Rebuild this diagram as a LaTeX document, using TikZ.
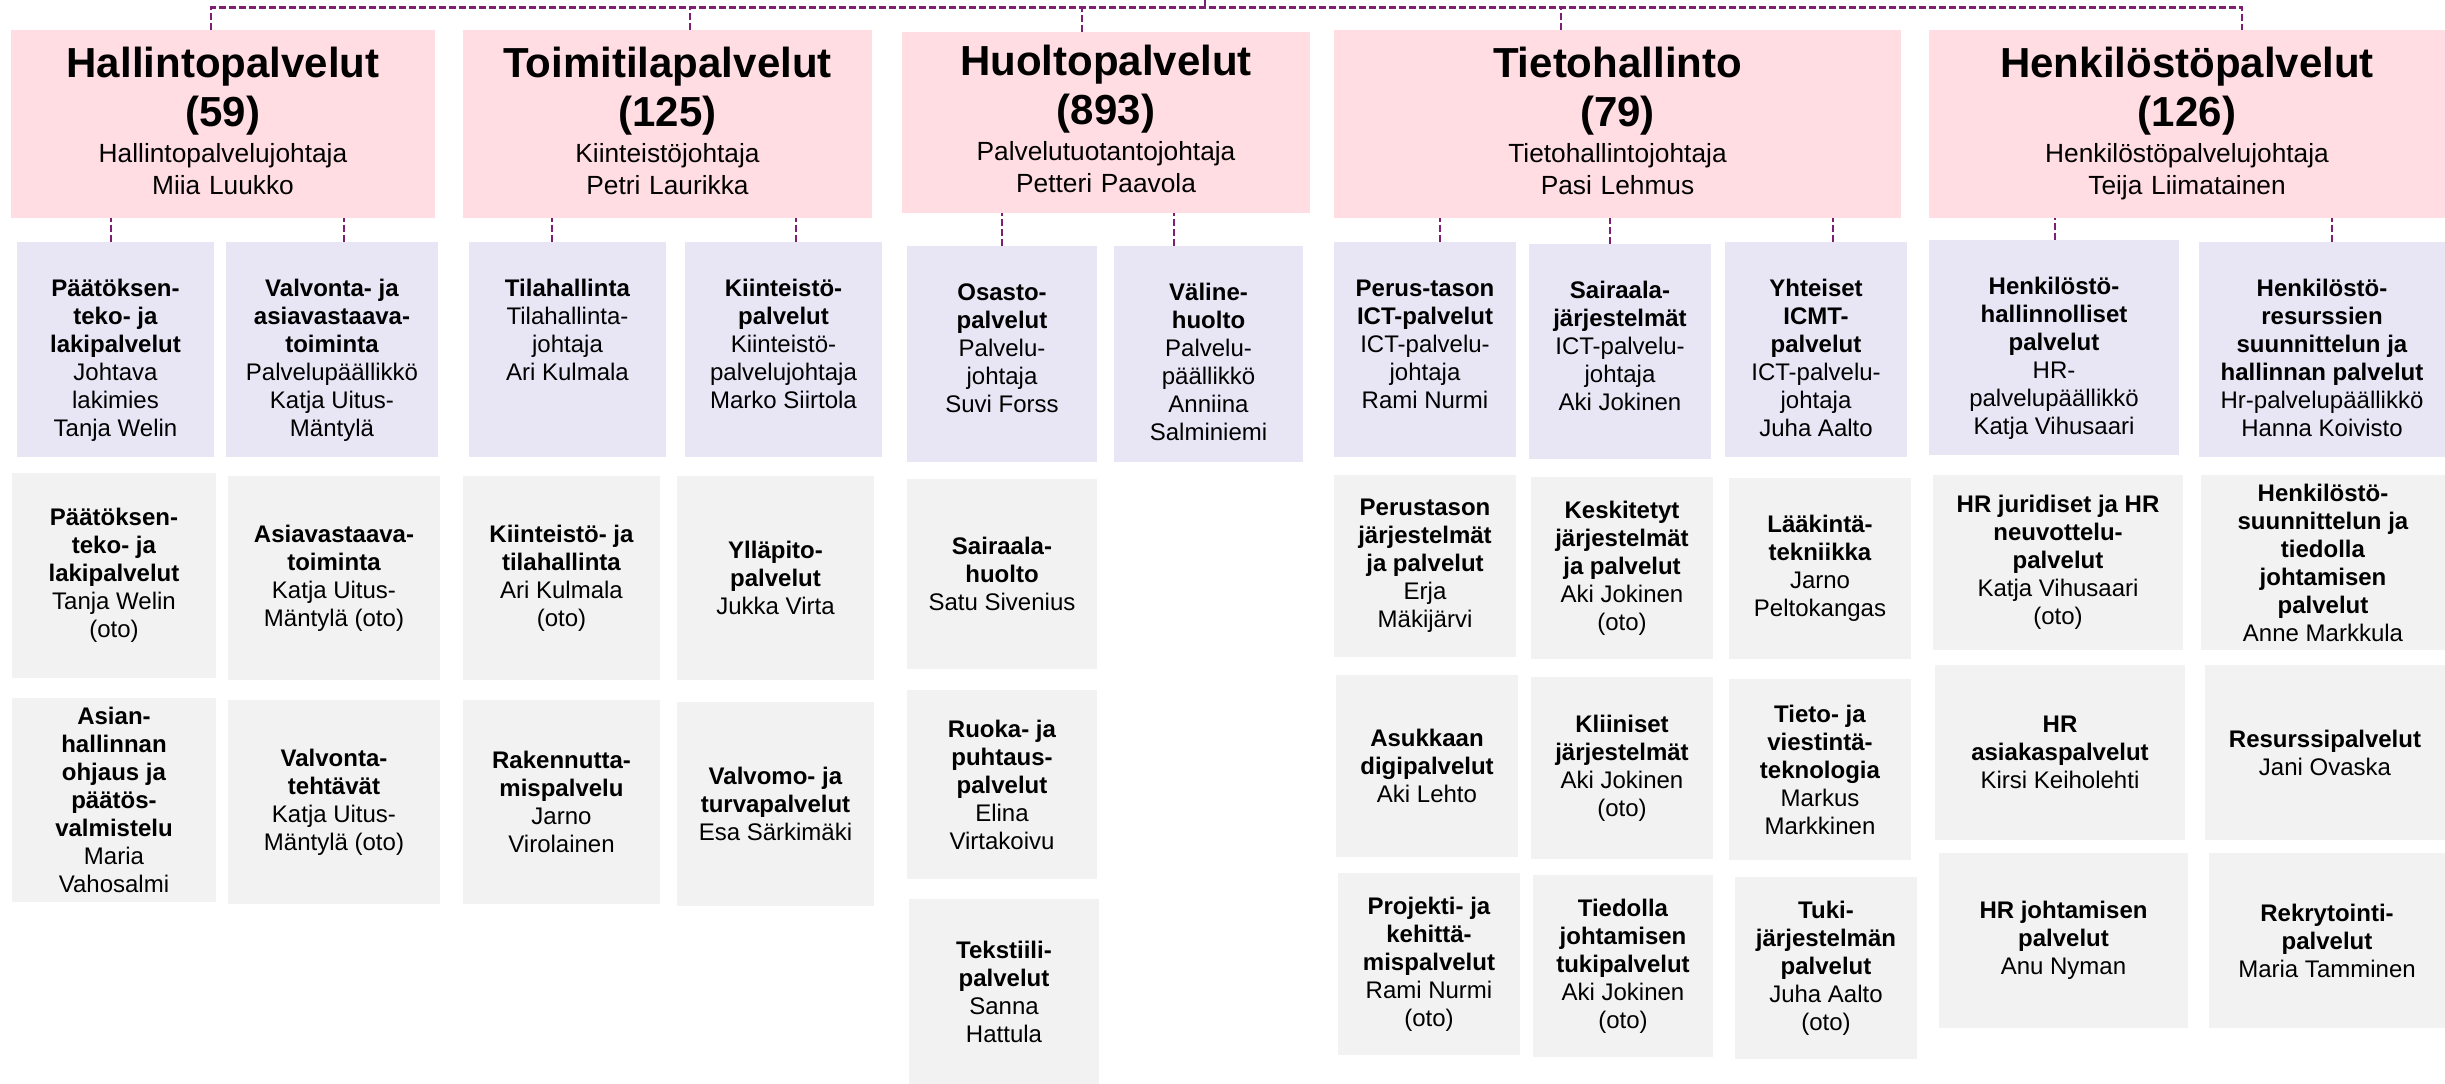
\documentclass[tikz,border=0pt]{standalone}
\usepackage{fontspec}
\setmainfont{Liberation Sans}
\setlength\parindent{0pt}

\definecolor{pinkfill}{RGB}{255,221,227}
\definecolor{lavfill}{RGB}{232,230,245}
\definecolor{grayfill}{RGB}{242,242,242}
\definecolor{connpurple}{RGB}{125,30,112}

\tikzset{
  boxbase/.style={draw=none, inner sep=0pt, outer sep=0pt, rectangle},
  pinkbx/.style={boxbase, fill=pinkfill, align=center, font=\fontsize{26.3}{32}\selectfont},
  lavbx/.style={boxbase, fill=lavfill},
  lavtxt/.style={inner sep=0pt, outer sep=0pt, align=center, font=\fontsize{24}{28}\selectfont},
  graybx/.style={boxbase, fill=grayfill, align=center, font=\fontsize{24}{28}\selectfont},
  conn/.style={draw=connpurple, line width=2.5pt, dash pattern=on 7pt off 3pt},
}

\newcommand\GrayBox[6]{\node[graybx, minimum width={#4-#2}, minimum height={#5-#3}] (#1) at ({(#2+#4)/2},{(#3+#5)/2}) {#6};}
\newcommand\LavBox[6]{\node[lavbx, minimum width={#4-#2}, minimum height={#5-#3}] (#1) at ({(#2+#4)/2},{(#3+#5)/2}) {};
  \node[lavtxt, anchor=north] (#1t) at ([yshift=-34.4pt]#1.north) {\strut #6};}
\newcommand\PTitle[2]{{\fontsize{42}{49}\selectfont\bfseries #1\\#2\par}\vspace{4pt}}
\newcommand\Deep{\rule[-7pt]{0pt}{0pt}}

\begin{document}
\begin{tikzpicture}[x=1pt,y=-1pt]
\fill[white] (0,0) rectangle (2445,1084);
\useasboundingbox (0,0) rectangle (2445,1084);

% ---- top level units
\node[pinkbx, minimum width=424, minimum height=188, text width=404pt] (hal) at (223,124)
  {\PTitle{Hallintopalvelut}{(59)}Hallintopalvelujohtaja\\Miia Luukko\Deep};
\node[pinkbx, minimum width=409, minimum height=188, text width=389pt] (toi) at (667.5,124)
  {\PTitle{Toimitilapalvelut}{(125)}Kiinteistöjohtaja\\Petri Laurikka\Deep};
\node[pinkbx, minimum width=408, minimum height=181, text width=388pt] (huo) at (1106,122.5)
  {\PTitle{Huoltopalvelut}{(893)}Palvelutuotantojohtaja\\Petteri Paavola\Deep};
\node[pinkbx, minimum width=567, minimum height=188, text width=547pt] (tie) at (1617.5,124)
  {\PTitle{Tietohallinto}{(79)}Tietohallintojohtaja\\Pasi Lehmus\Deep};
\node[pinkbx, minimum width=516, minimum height=188, text width=496pt] (hen) at (2187,124)
  {\PTitle{Henkilöstöpalvelut}{(126)}Henkilöstöpalvelujohtaja\\Teija Liimatainen\Deep};

% ---- second level (lavender)
\LavBox{la1}{17}{242}{214}{457}{\textbf{Päätöksen-}\\\textbf{teko- ja}\\\textbf{lakipalvelut}\\Johtava\\lakimies\\Tanja Welin}
\LavBox{la2}{226}{242}{438}{457}{\textbf{Valvonta- ja}\\\textbf{asiavastaava-}\\\textbf{toiminta}\\Palvelupäällikkö\\Katja Uitus-\\Mäntylä}
\LavBox{lt1}{469}{242}{666}{457}{\textbf{Tilahallinta}\\Tilahallinta-\\johtaja\\Ari Kulmala}
\LavBox{lt2}{685}{242}{882}{457}{\textbf{Kiinteistö-}\\\textbf{palvelut}\\Kiinteistö-\\palvelujohtaja\\Marko Siirtola}
\LavBox{lh1}{907}{246}{1097}{462}{\textbf{Osasto-}\\\textbf{palvelut}\\Palvelu-\\johtaja\\Suvi Forss}
\LavBox{lh2}{1114}{246}{1303}{462}{\textbf{Väline-}\\\textbf{huolto}\\Palvelu-\\päällikkö\\Anniina\\Salminiemi}
\LavBox{lk1}{1334}{242}{1516}{457}{\textbf{Perus-tason}\\\textbf{ICT-palvelut}\\ICT-palvelu-\\johtaja\\Rami Nurmi}
\LavBox{lk2}{1529}{244}{1711}{459}{\textbf{Sairaala-}\\\textbf{järjestelmät}\\ICT-palvelu-\\johtaja\\Aki Jokinen}
\LavBox{lk3}{1725}{242}{1907}{457}{\textbf{Yhteiset}\\\textbf{ICMT-}\\\textbf{palvelut}\\ICT-palvelu-\\johtaja\\Juha Aalto}
\LavBox{lp1}{1929}{240}{2179}{455}{\textbf{Henkilöstö-}\\\textbf{hallinnolliset}\\\textbf{palvelut}\\HR-\\palvelupäällikkö\\Katja Vihusaari}
\LavBox{lp2}{2199}{242}{2445}{457}{\textbf{Henkilöstö-}\\\textbf{resurssien}\\\textbf{suunnittelun ja}\\\textbf{hallinnan palvelut}\\Hr-palvelupäällikkö\\Hanna Koivisto}

% ---- third level (gray)
\GrayBox{ga1}{12}{473}{216}{678}{\textbf{Päätöksen-}\\\textbf{teko- ja}\\\textbf{lakipalvelut}\\Tanja Welin\\(oto)}
\GrayBox{ga2}{228}{476}{440}{680}{\textbf{Asiavastaava-}\\\textbf{toiminta}\\Katja Uitus-\\Mäntylä (oto)}
\GrayBox{ga3}{12}{698}{216}{902}{\textbf{Asian-}\\\textbf{hallinnan}\\\textbf{ohjaus ja}\\\textbf{päätös-}\\\textbf{valmistelu}\\Maria\\Vahosalmi}
\GrayBox{ga4}{228}{700}{440}{904}{\textbf{Valvonta-}\\\textbf{tehtävät}\\Katja Uitus-\\Mäntylä (oto)}
\GrayBox{gt1}{463}{476}{660}{680}{\textbf{Kiinteistö- ja}\\\textbf{tilahallinta}\\Ari Kulmala\\(oto)}
\GrayBox{gt2}{677}{476}{874}{680}{\textbf{Ylläpito-}\\\textbf{palvelut}\\Jukka Virta}
\GrayBox{gt3}{463}{700}{660}{904}{\textbf{Rakennutta-}\\\textbf{mispalvelu}\\Jarno\\Virolainen}
\GrayBox{gt4}{677}{702}{874}{906}{\textbf{Valvomo- ja}\\\textbf{turvapalvelut}\\Esa Särkimäki}
\GrayBox{gh1}{907}{479}{1097}{669}{\textbf{Sairaala-}\\\textbf{huolto}\\Satu Sivenius}
\GrayBox{gh2}{907}{690}{1097}{879}{\textbf{Ruoka- ja}\\\textbf{puhtaus-}\\\textbf{palvelut}\\Elina\\Virtakoivu}
\GrayBox{gh3}{909}{899}{1099}{1084}{\textbf{Tekstiili-}\\\textbf{palvelut}\\Sanna\\Hattula}
\GrayBox{gk1}{1334}{475}{1516}{657}{\textbf{Perustason}\\\textbf{järjestelmät}\\\textbf{ja palvelut}\\Erja\\Mäkijärvi}
\GrayBox{gk2}{1531}{477}{1713}{659}{\textbf{Keskitetyt}\\\textbf{järjestelmät}\\\textbf{ja palvelut}\\Aki Jokinen\\(oto)}
\GrayBox{gk3}{1729}{478}{1911}{659}{\textbf{Lääkintä-}\\\textbf{tekniikka}\\Jarno\\Peltokangas}
\GrayBox{gk4}{1336}{675}{1518}{857}{\textbf{Asukkaan}\\\textbf{digipalvelut}\\Aki Lehto}
\GrayBox{gk5}{1531}{677}{1713}{859}{\textbf{Kliiniset}\\\textbf{järjestelmät}\\Aki Jokinen\\(oto)}
\GrayBox{gk6}{1729}{679}{1911}{860}{\textbf{Tieto- ja}\\\textbf{viestintä-}\\\textbf{teknologia}\\Markus\\Markkinen}
\GrayBox{gk7}{1338}{873}{1520}{1055}{\textbf{Projekti- ja}\\\textbf{kehittä-}\\\textbf{mispalvelut}\\Rami Nurmi\\(oto)}
\GrayBox{gk8}{1533}{875}{1713}{1057}{\textbf{Tiedolla}\\\textbf{johtamisen}\\\textbf{tukipalvelut}\\Aki Jokinen\\(oto)}
\GrayBox{gk9}{1735}{877}{1917}{1059}{\textbf{Tuki-}\\\textbf{järjestelmän}\\\textbf{palvelut}\\Juha Aalto\\(oto)}
\GrayBox{gp1}{1933}{475}{2183}{650}{\textbf{HR juridiset ja HR}\\\textbf{neuvottelu-}\\\textbf{palvelut}\\Katja Vihusaari\\(oto)}
\GrayBox{gp2}{2201}{475}{2445}{650}{\textbf{Henkilöstö-}\\\textbf{suunnittelun ja}\\\textbf{tiedolla}\\\textbf{johtamisen}\\\textbf{palvelut}\\Anne Markkula}
\GrayBox{gp3}{1935}{665}{2185}{840}{\textbf{HR}\\\textbf{asiakaspalvelut}\\Kirsi Keiholehti}
\GrayBox{gp4}{2205}{665}{2445}{840}{\textbf{Resurssipalvelut}\\Jani Ovaska}
\GrayBox{gp5}{1939}{853}{2188}{1028}{\textbf{HR johtamisen}\\\textbf{palvelut}\\Anu Nyman}
\GrayBox{gp6}{2209}{853}{2445}{1028}{\textbf{Rekrytointi-}\\\textbf{palvelut}\\Maria Tamminen}

% ---- connectors
\coordinate (up) at (1205,0);
\coordinate (bus) at (1205,7.5);
\draw[conn] (up) -- (bus);
\draw[conn] ([xshift=-12pt]hal.north) |- (bus) -| ([xshift=55pt]hen.north);
\draw[conn] ([xshift=22.5pt]toi.north) -- ([xshift=22.5pt]toi.north |- bus);
\draw[conn] ([xshift=-24pt]huo.north) -- ([xshift=-24pt]huo.north |- bus);
\draw[conn] ([xshift=-56.5pt]tie.north) -- ([xshift=-56.5pt]tie.north |- bus);

\draw[conn] ([xshift=-4.5pt]la1.north) -- ([xshift=-4.5pt]la1.north |- hal.south);
\draw[conn] ([xshift=12pt]la2.north) -- ([xshift=12pt]la2.north |- hal.south);
\draw[conn] ([xshift=-15.5pt]lt1.north) -- ([xshift=-15.5pt]lt1.north |- toi.south);
\draw[conn] ([xshift=12.5pt]lt2.north) -- ([xshift=12.5pt]lt2.north |- toi.south);
\draw[conn] (lh1.north) -- (lh1.north |- huo.south);
\draw[conn] ([xshift=-34.5pt]lh2.north) -- ([xshift=-34.5pt]lh2.north |- huo.south);
\draw[conn] ([xshift=15pt]lk1.north) -- ([xshift=15pt]lk1.north |- tie.south);
\draw[conn] ([xshift=-10pt]lk2.north) -- ([xshift=-10pt]lk2.north |- tie.south);
\draw[conn] ([xshift=17pt]lk3.north) -- ([xshift=17pt]lk3.north |- tie.south);
\draw[conn] ([xshift=1pt]lp1.north) -- ([xshift=1pt]lp1.north |- hen.south);
\draw[conn] ([xshift=10pt]lp2.north) -- ([xshift=10pt]lp2.north |- hen.south);
\end{tikzpicture}
\end{document}
